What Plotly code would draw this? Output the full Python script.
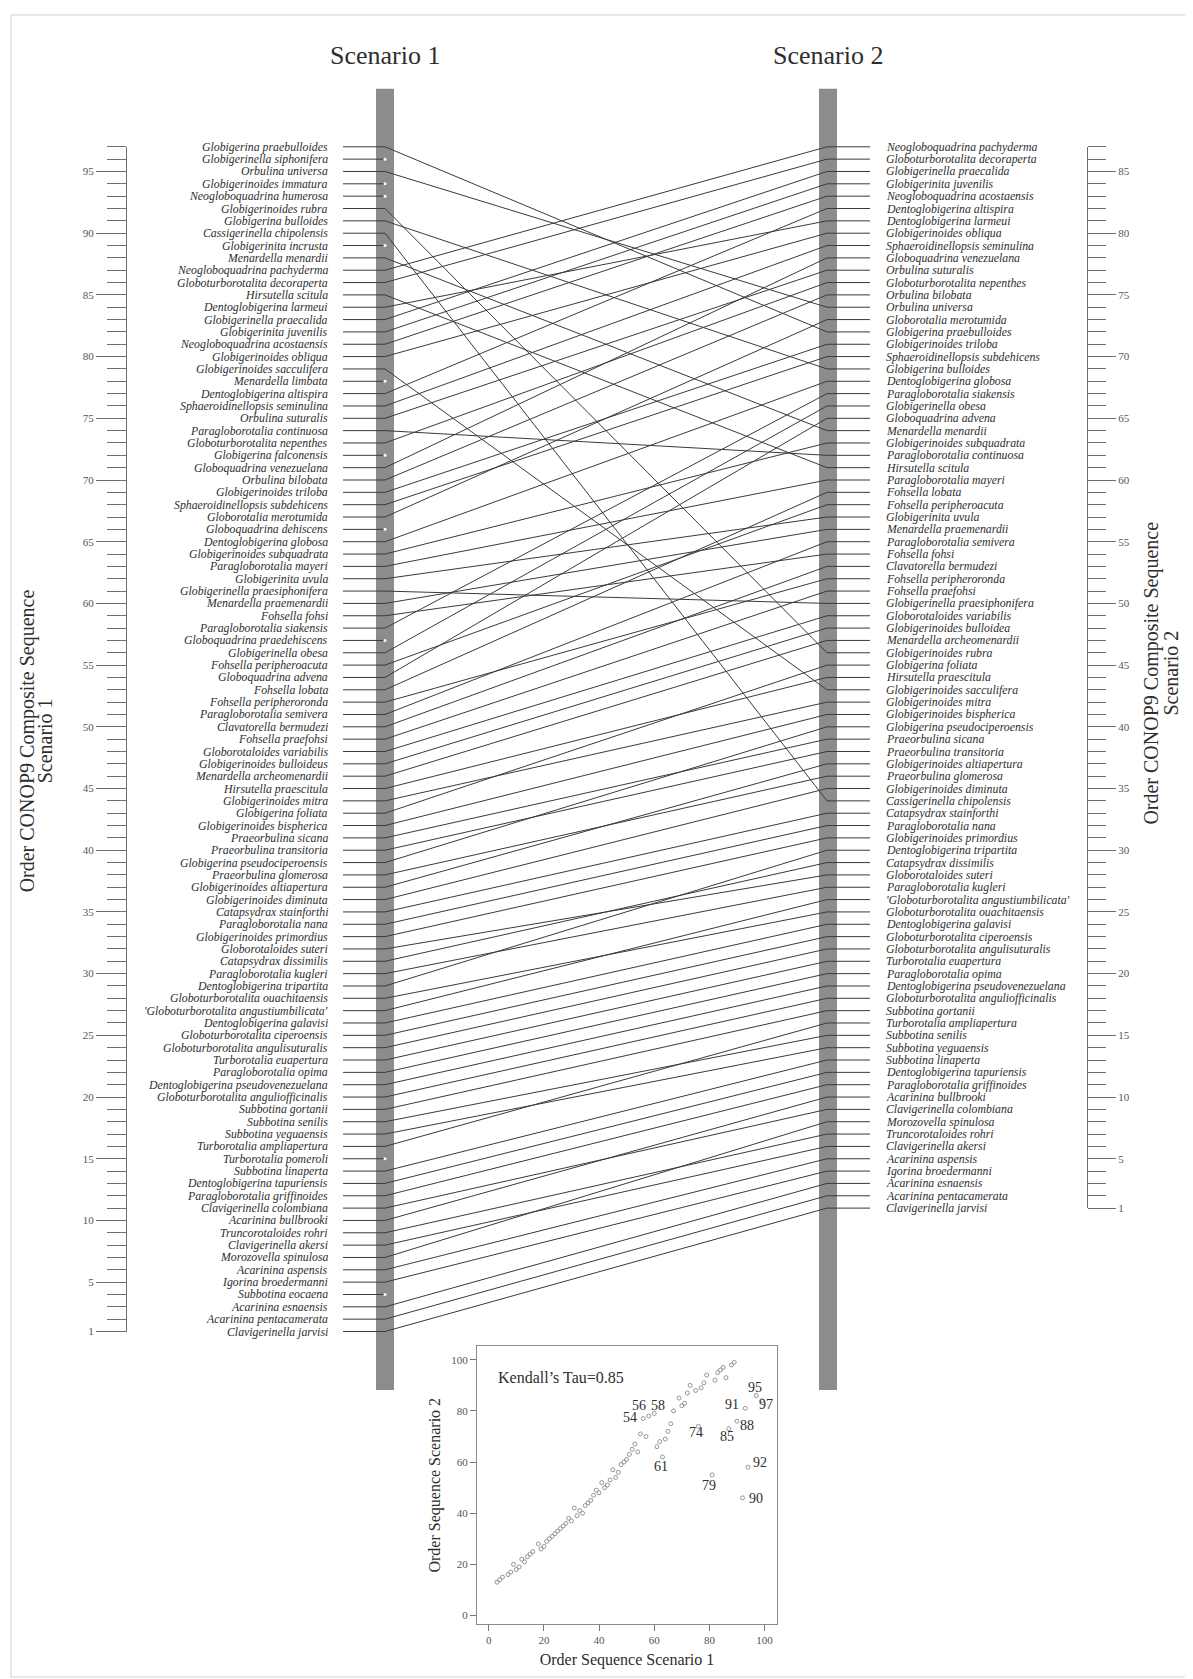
import plotly.graph_objects as go

# ---------------- data ----------------
# Scenario 1 composite sequence, listed top (order 97) to bottom (order 1)
left_names = [
    "Globigerina praebulloides", "Globigerinella siphonifera", "Orbulina universa",
    "Globigerinoides immatura", "Neogloboquadrina humerosa", "Globigerinoides rubra",
    "Globigerina bulloides", "Cassigerinella chipolensis", "Globigerinita incrusta",
    "Menardella menardii", "Neogloboquadrina pachyderma", "Globoturborotalita decoraperta",
    "Hirsutella scitula", "Dentoglobigerina larmeui", "Globigerinella praecalida",
    "Globigerinita juvenilis", "Neogloboquadrina acostaensis", "Globigerinoides obliqua",
    "Globigerinoides sacculifera", "Menardella limbata", "Dentoglobigerina altispira",
    "Sphaeroidinellopsis seminulina", "Orbulina suturalis", "Paragloborotalia continuosa",
    "Globoturborotalita nepenthes", "Globigerina falconensis", "Globoquadrina venezuelana",
    "Orbulina bilobata", "Globigerinoides triloba", "Sphaeroidinellopsis subdehicens",
    "Globorotalia merotumida", "Globoquadrina dehiscens", "Dentoglobigerina globosa",
    "Globigerinoides subquadrata", "Paragloborotalia mayeri", "Globigerinita uvula",
    "Globigerinella praesiphonifera", "Menardella praemenardii", "Fohsella fohsi",
    "Paragloborotalia siakensis", "Globoquadrina praedehiscens", "Globigerinella obesa",
    "Fohsella peripheroacuta", "Globoquadrina advena", "Fohsella lobata",
    "Fohsella peripheroronda", "Paragloborotalia semivera", "Clavatorella bermudezi",
    "Fohsella praefohsi", "Globorotaloides variabilis", "Globigerinoides bulloideus",
    "Menardella archeomenardii", "Hirsutella praescitula", "Globigerinoides mitra",
    "Globigerina foliata", "Globigerinoides bispherica", "Praeorbulina sicana",
    "Praeorbulina transitoria", "Globigerina pseudociperoensis", "Praeorbulina glomerosa",
    "Globigerinoides altiapertura", "Globigerinoides diminuta", "Catapsydrax stainforthi",
    "Paragloborotalia nana", "Globigerinoides primordius", "Globorotaloides suteri",
    "Catapsydrax dissimilis", "Paragloborotalia kugleri", "Dentoglobigerina tripartita",
    "Globoturborotalita ouachitaensis", "'Globoturborotalita angustiumbilicata'",
    "Dentoglobigerina galavisi", "Globoturborotalita ciperoensis",
    "Globoturborotalita angulisuturalis", "Turborotalia euapertura", "Paragloborotalia opima",
    "Dentoglobigerina pseudovenezuelana", "Globoturborotalita anguliofficinalis",
    "Subbotina gortanii", "Subbotina senilis", "Subbotina yeguaensis",
    "Turborotalia ampliapertura", "Turborotalia pomeroli", "Subbotina linaperta",
    "Dentoglobigerina tapuriensis", "Paragloborotalia griffinoides", "Clavigerinella colombiana",
    "Acarinina bullbrooki", "Truncorotaloides rohri", "Clavigerinella akersi",
    "Morozovella spinulosa", "Acarinina aspensis", "Igorina broedermanni",
    "Subbotina eocaena", "Acarinina esnaensis", "Acarinina pentacamerata",
    "Clavigerinella jarvisi",
]

# Scenario 2 composite sequence, listed top (order 87) to bottom (order 1)
right_names = [
    "Neogloboquadrina pachyderma", "Globoturborotalita decoraperta", "Globigerinella praecalida",
    "Globigerinita juvenilis", "Neogloboquadrina acostaensis", "Dentoglobigerina altispira",
    "Dentoglobigerina larmeui", "Globigerinoides obliqua", "Sphaeroidinellopsis seminulina",
    "Globoquadrina venezuelana", "Orbulina suturalis", "Globoturborotalita nepenthes",
    "Orbulina bilobata", "Orbulina universa", "Globorotalia merotumida",
    "Globigerina praebulloides", "Globigerinoides triloba", "Sphaeroidinellopsis subdehicens",
    "Globigerina bulloides", "Dentoglobigerina globosa", "Paragloborotalia siakensis",
    "Globigerinella obesa", "Globoquadrina advena", "Menardella menardii",
    "Globigerinoides subquadrata", "Paragloborotalia continuosa", "Hirsutella scitula",
    "Paragloborotalia mayeri", "Fohsella lobata", "Fohsella peripheroacuta",
    "Globigerinita uvula", "Menardella praemenardii", "Paragloborotalia semivera",
    "Fohsella fohsi", "Clavatorella bermudezi", "Fohsella peripheroronda",
    "Fohsella praefohsi", "Globigerinella praesiphonifera", "Globorotaloides variabilis",
    "Globigerinoides bulloidea", "Menardella archeomenardii", "Globigerinoides rubra",
    "Globigerina foliata", "Hirsutella praescitula", "Globigerinoides sacculifera",
    "Globigerinoides mitra", "Globigerinoides bispherica", "Globigerina pseudociperoensis",
    "Praeorbulina sicana", "Praeorbulina transitoria", "Globigerinoides altiapertura",
    "Praeorbulina glomerosa", "Globigerinoides diminuta", "Cassigerinella chipolensis",
    "Catapsydrax stainforthi", "Paragloborotalia nana", "Globigerinoides primordius",
    "Dentoglobigerina tripartita", "Catapsydrax dissimilis", "Globorotaloides suteri",
    "Paragloborotalia kugleri", "'Globoturborotalita angustiumbilicata'",
    "Globoturborotalita ouachitaensis", "Dentoglobigerina galavisi",
    "Globoturborotalita ciperoensis", "Globoturborotalita angulisuturalis",
    "Turborotalia euapertura", "Paragloborotalia opima", "Dentoglobigerina pseudovenezuelana",
    "Globoturborotalita anguliofficinalis", "Subbotina gortanii", "Turborotalia ampliapertura",
    "Subbotina senilis", "Subbotina yeguaensis", "Subbotina linaperta",
    "Dentoglobigerina tapuriensis", "Paragloborotalia griffinoides", "Acarinina bullbrooki",
    "Clavigerinella colombiana", "Morozovella spinulosa", "Truncorotaloides rohri",
    "Clavigerinella akersi", "Acarinina aspensis", "Igorina broedermanni",
    "Acarinina esnaensis", "Acarinina pentacamerata", "Clavigerinella jarvisi",
]

# same taxon, spelled differently in the two scenarios
name_alias = {"Globigerinoides bulloideus": "Globigerinoides bulloidea"}

left_ticks = [1, 5, 10, 15, 20, 25, 30, 35, 40, 45, 50, 55, 60, 65, 70, 75, 80, 85, 90, 95]
right_ticks = [1, 5, 10, 15, 20, 25, 30, 35, 40, 45, 50, 55, 60, 65, 70, 75, 80, 85]

# inset scatter: order sequence scenario 1 vs scenario 2
sc_x = [3, 4, 5, 7, 8, 9, 10, 11, 12, 13, 14, 15, 16, 18, 19, 20, 21, 22, 23, 24, 25, 26,
        27, 28, 29, 30, 31, 32, 33, 34, 35, 36, 37, 38, 39, 40, 41, 42, 43, 44, 45, 46, 47,
        48, 49, 50, 51, 52, 53, 54, 55, 56, 57, 58, 60, 61, 62, 63, 64, 65, 66, 67, 69, 70,
        71, 72, 73, 75, 76, 77, 78, 79, 81, 82, 83, 84, 85, 86, 87, 88, 89, 90, 92, 93, 94,
        97, 99]
sc_y = [13, 14, 15, 16, 17, 20, 18, 19, 22, 21, 23, 24, 25, 28, 26, 27, 29, 30, 31, 32, 33,
        34, 35, 36, 38, 37, 42, 39, 41, 40, 43, 44, 45, 47, 49, 48, 52, 50, 51, 53, 57, 54,
        56, 59, 60, 61, 63, 65, 67, 64, 71, 77, 70, 78, 79, 66, 68, 62, 69, 72, 75, 80, 85,
        82, 83, 87, 90, 88, 74, 89, 91, 94, 55, 92, 95, 96, 97, 93, 73, 98, 99, 76, 46, 81,
        58, 86, 84]
sc_ticks = [0, 20, 40, 60, 80, 100]
out_text = ["54", "56", "58", "61", "74", "79", "85", "88", "90", "91", "92", "95", "97"]
out_x = [51.3, 54.3, 61.3, 62.5, 75.0, 79.8, 86.5, 93.7, 97.0, 88.2, 98.5, 96.6, 100.6]
out_y = [77.3, 82.0, 82.0, 58.4, 71.4, 50.9, 70.1, 74.3, 45.8, 82.5, 59.7, 89.0, 82.5]
kendall_text = "Kendall\u2019s Tau=0.85"

# ---------------- layout constants ----------------
W, H = 1193, 1679
FONT = "Liberation Serif, Times New Roman, serif"
TXT = "#2e2e2e"
TOP_PX = 139.3      # pixel row of the top label
ROW = 12.385        # pixel step between labels
nL, nR = len(left_names), len(right_names)
off = nL - nR       # columns are top-aligned


def px_to_y(p):
    return nL - (p - TOP_PX) / ROW


X_LTXT, X_LSEG, X_LBEND = 322, 335, 377
X_RBEND, X_RSEG, X_RTXT = 819, 862, 876
LBAR = (368, 386)
RBAR = (811, 829)
BAR_TOP, BAR_BOT = 81, 1387

left_order = {n: nL - i for i, n in enumerate(left_names)}
right_order = {n: nR - i for i, n in enumerate(right_names)}

fig = go.Figure()

cx, cy, ux, uy, dx, dy = [], [], [], [], [], []
matched_right = set()
for n in left_names:
    L = left_order[n]
    key = name_alias.get(n, n)
    if key in right_order:
        R = right_order[key]
        matched_right.add(key)
        cx += [X_LSEG, X_LBEND, X_RBEND, X_RSEG, None]
        cy += [L, L, R + off, R + off, None]
    else:
        ux += [X_LSEG, X_LBEND, None]
        uy += [L, L, None]
        dx.append(X_LBEND)
        dy.append(L)
for n in right_names:
    if n not in matched_right:
        R = right_order[n]
        ux += [X_RBEND, X_RSEG, None]
        uy += [R + off, R + off, None]

fig.add_trace(go.Scatter(x=cx, y=cy, mode="lines", line=dict(color="#3a3a3a", width=1),
                         hoverinfo="skip"))
fig.add_trace(go.Scatter(x=ux, y=uy, mode="lines", line=dict(color="#3a3a3a", width=1),
                         hoverinfo="skip"))
fig.add_trace(go.Scatter(x=dx, y=dy, mode="markers",
                         marker=dict(color="white", size=3, line=dict(width=0)),
                         hoverinfo="skip"))

# invisible traces so the rulers are drawn
fig.add_trace(go.Scatter(x=[0], y=[1], xaxis="x", yaxis="y3", mode="markers",
                         marker=dict(opacity=0), hoverinfo="skip"))
fig.add_trace(go.Scatter(x=[0], y=[1], xaxis="x", yaxis="y4", mode="markers",
                         marker=dict(opacity=0), hoverinfo="skip"))

# inset scatter
fig.add_trace(go.Scatter(x=sc_x, y=sc_y, xaxis="x2", yaxis="y5", mode="markers",
                         marker=dict(symbol="circle-open", size=4, color="#8a8a8a",
                                     line=dict(width=0.9)),
                         hoverinfo="skip"))

annotations = []
for n in left_names:
    annotations.append(dict(x=X_LTXT, y=left_order[n], xref="x", yref="y", text=n,
                            showarrow=False, xanchor="right", yanchor="middle",
                            font=dict(family=FONT, size=11.8, color=TXT, style="italic")))
for n in right_names:
    annotations.append(dict(x=X_RTXT, y=right_order[n] + off, xref="x", yref="y", text=n,
                            showarrow=False, xanchor="left", yanchor="middle",
                            font=dict(family=FONT, size=11.8, color=TXT, style="italic")))

# column titles
for t, xc in (("Scenario 1", sum(LBAR) / 2), ("Scenario 2", sum(RBAR) / 2)):
    annotations.append(dict(x=xc, y=px_to_y(48), xref="x", yref="y", text=t,
                            showarrow=False, xanchor="center", yanchor="middle",
                            font=dict(family=FONT, size=26, color=TXT)))

# ruler titles (rotated)
for t, xp, yp in (("Order CONOP9 Composite Sequence", 19, 736), ("Scenario 1", 37, 736),
                  ("Order CONOP9 Composite Sequence", 1144, 668), ("Scenario 2", 1163, 668)):
    annotations.append(dict(x=xp, y=px_to_y(yp), xref="x", yref="y", text=t,
                            showarrow=False, textangle=-90, xanchor="center",
                            yanchor="middle", font=dict(family=FONT, size=20, color=TXT)))

# inset annotations
annotations.append(dict(x=2.6, y=93, xref="x2", yref="y5", text=kendall_text,
                        showarrow=False, xanchor="left", yanchor="middle",
                        font=dict(family=FONT, size=16, color=TXT)))
for t, xx, yy in zip(out_text, out_x, out_y):
    annotations.append(dict(x=xx, y=yy, xref="x2", yref="y5", text=t, showarrow=False,
                            xanchor="center", yanchor="middle",
                            font=dict(family=FONT, size=14, color=TXT)))

shapes = [
    dict(type="rect", xref="x", yref="y", x0=LBAR[0], x1=LBAR[1],
         y0=px_to_y(BAR_BOT), y1=px_to_y(BAR_TOP), fillcolor="#8c8c8c",
         line=dict(width=0), layer="below"),
    dict(type="rect", xref="x", yref="y", x0=RBAR[0], x1=RBAR[1],
         y0=px_to_y(BAR_BOT), y1=px_to_y(BAR_TOP), fillcolor="#8c8c8c",
         line=dict(width=0), layer="below"),
    dict(type="rect", xref="paper", yref="paper", x0=3 / W, x1=1190 / W,
         y0=1 - 1675 / H, y1=1 - 7 / H, line=dict(color="#d0d0d0", width=1),
         fillcolor="rgba(0,0,0,0)", layer="below"),
]

ruler_common = dict(showgrid=False, zeroline=False, showline=True, linecolor="#6f6f6f",
                    linewidth=1, ticks="outside", tickcolor="#6f6f6f", tickwidth=1,
                    tickfont=dict(family=FONT, size=11, color="#555555"), fixedrange=True)

yL0, yL1 = 1 - (TOP_PX + (nL - 1) * ROW) / H, 1 - TOP_PX / H
yR0 = 1 - (TOP_PX + (nL - 1) * ROW) / H + (off * ROW) / H

fig.update_layout(
    width=W, height=H, margin=dict(l=0, r=0, t=0, b=0),
    paper_bgcolor="white", plot_bgcolor="rgba(0,0,0,0)", showlegend=False,
    xaxis=dict(domain=[0, 1], range=[0, W], visible=False, fixedrange=True),
    yaxis=dict(domain=[0, 1], range=[px_to_y(H), px_to_y(0)], visible=False,
               fixedrange=True),
    yaxis3=dict(domain=[yL0, yL1], range=[1, nL], anchor="free", position=118 / W,
                side="left", tickmode="array", tickvals=left_ticks,
                ticktext=[str(v) for v in left_ticks], ticklen=30,
                minor=dict(tickmode="array", tickvals=list(range(1, nL + 1)), ticklen=19,
                           ticks="outside", tickcolor="#6f6f6f", showgrid=False),
                **ruler_common),
    yaxis4=dict(domain=[yR0, yL1], range=[1, nR], anchor="free", position=1079 / W,
                side="right", tickmode="array", tickvals=right_ticks,
                ticktext=[str(v) for v in right_ticks], ticklen=28,
                minor=dict(tickmode="array", tickvals=list(range(1, nR + 1)), ticklen=18,
                           ticks="outside", tickcolor="#6f6f6f", showgrid=False),
                **ruler_common),
    xaxis2=dict(domain=[469 / W, 769 / W], anchor="y5", range=[-4.24, 104.5],
                tickmode="array", tickvals=sc_ticks, ticks="outside", ticklen=6,
                tickcolor="#777777", showline=True, mirror=True, linecolor="#8a8a8a",
                showgrid=False, zeroline=False, fixedrange=True,
                tickfont=dict(family=FONT, size=11, color="#555555"),
                title=dict(text="Order Sequence Scenario 1", standoff=8,
                           font=dict(family=FONT, size=16, color=TXT))),
    yaxis5=dict(domain=[1 - 1622 / H, 1 - 1343 / H], anchor="x2", range=[-3.4, 105.3],
                tickmode="array", tickvals=sc_ticks, ticks="outside", ticklen=6,
                tickcolor="#777777", showline=True, mirror=True, linecolor="#8a8a8a",
                showgrid=False, zeroline=False, fixedrange=True,
                tickfont=dict(family=FONT, size=11, color="#555555"),
                title=dict(text="Order Sequence Scenario 2", standoff=6,
                           font=dict(family=FONT, size=16, color=TXT))),
    annotations=annotations,
    shapes=shapes,
)

fig.write_html("out.html")
